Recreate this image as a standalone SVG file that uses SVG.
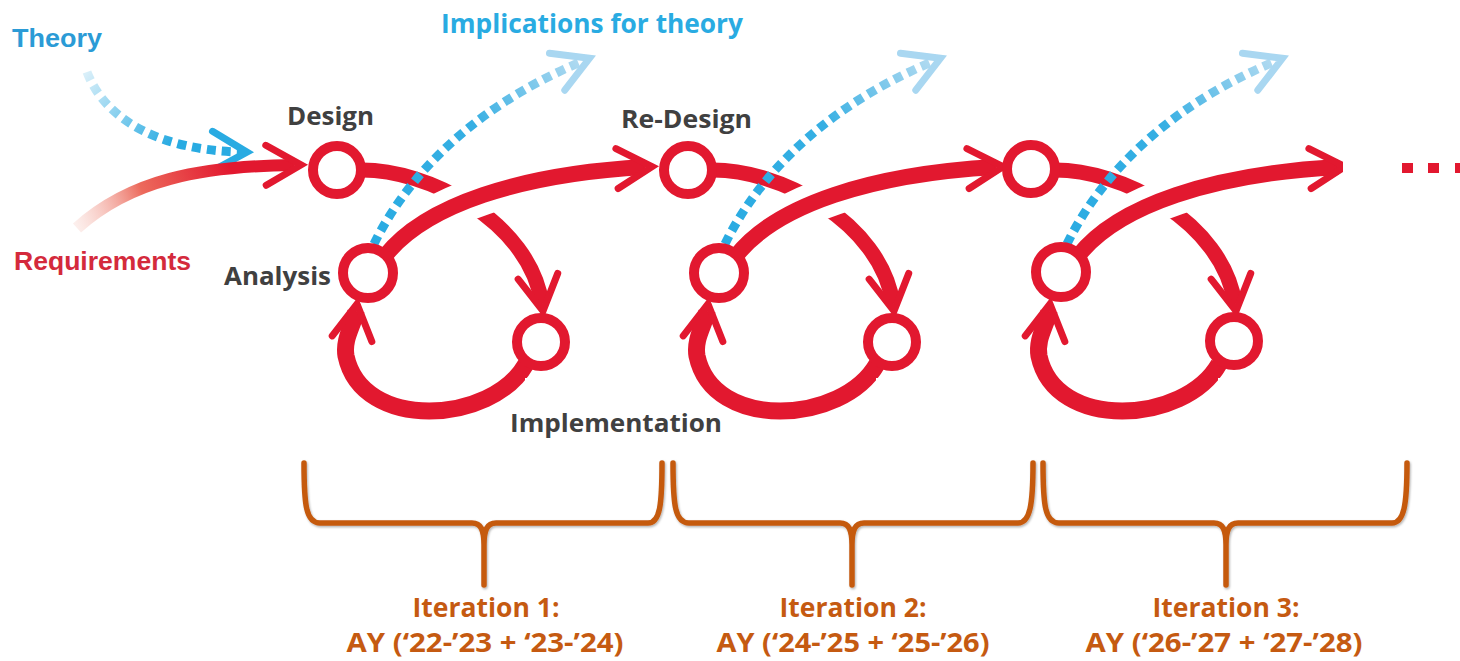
<svg xmlns="http://www.w3.org/2000/svg" xmlns:xlink="http://www.w3.org/1999/xlink" width="1460" height="661" viewBox="0 0 1460 661">
  <style>
    .red { fill: none; stroke: #e2182f; }
    .ring { fill: #ffffff; stroke: #e2182f; stroke-width: 10; }
    .dots { fill: none; stroke-width: 9; stroke-dasharray: 9 6; }
    .label { font-family: "Open Sans", "Liberation Sans", sans-serif; font-weight: 700; fill: #404040; font-size: 25px; }
    .blue-title { font-family: "Open Sans", "Liberation Sans", sans-serif; font-weight: 700; fill: #29abe2; font-size: 27px; }
    .input { font-family: "Liberation Sans", Arial, sans-serif; font-weight: 700; font-size: 26px; }
    .iter { font-family: "Open Sans", "Liberation Sans", sans-serif; font-weight: 700; fill: #c55a11; font-size: 27px; text-anchor: middle; }
    .brace { fill: none; stroke: #c55a11; stroke-width: 5.5; stroke-linecap: round; stroke-linejoin: round; }
  </style>
  <defs>
    <!-- open chevron arrowheads -->
    <marker id="chev-red" markerUnits="userSpaceOnUse" markerWidth="60" markerHeight="60" refX="0" refY="0" orient="auto" overflow="visible">
      <path d="M -28 -20 L 7 0 L -28 20" fill="none" stroke="#e2182f" stroke-width="7" stroke-linecap="round" stroke-linejoin="miter"/>
    </marker>
    <marker id="chev-blue" markerUnits="userSpaceOnUse" markerWidth="60" markerHeight="60" refX="0" refY="0" orient="auto" overflow="visible">
      <path d="M -28 -20 L 7 0 L -28 20" fill="none" stroke="#29abe2" stroke-width="7" stroke-linecap="round" stroke-linejoin="miter"/>
    </marker>
    <marker id="chev-pale" markerUnits="userSpaceOnUse" markerWidth="60" markerHeight="60" refX="0" refY="0" orient="auto" overflow="visible">
      <path d="M -28 -20 L 7 0 L -28 20" fill="none" stroke="#a9d7f1" stroke-width="7" stroke-linecap="round" stroke-linejoin="miter"/>
    </marker>

    <linearGradient id="fade-out" gradientUnits="userSpaceOnUse" x1="374" y1="244" x2="583" y2="61">
      <stop offset="0" stop-color="#29abe2"/>
      <stop offset="0.55" stop-color="#36afe3"/>
      <stop offset="1" stop-color="#b3dbf1"/>
    </linearGradient>
    <linearGradient id="fade-in" gradientUnits="userSpaceOnUse" x1="87" y1="72" x2="170" y2="145">
      <stop offset="0" stop-color="#d9eff9"/>
      <stop offset="1" stop-color="#29abe2"/>
    </linearGradient>
    <linearGradient id="req-fade" gradientUnits="userSpaceOnUse" x1="77" y1="228" x2="230" y2="168">
      <stop offset="0" stop-color="#f6c9c0" stop-opacity="0.3"/>
      <stop offset="0.45" stop-color="#ec6a5c"/>
      <stop offset="1" stop-color="#e2182f"/>
    </linearGradient>

    <filter id="soft-shadow" x="-5%" y="-5%" width="110%" height="120%">
      <feDropShadow dx="1" dy="1.5" stdDeviation="1.2" flood-color="#000000" flood-opacity="0.3"/>
    </filter>

    <clipPath id="crossing">
      <rect x="420" y="165" width="80" height="60"/>
    </clipPath>
    <clipPath id="right-edge">
      <rect x="0" y="0" width="1343" height="661"/>
    </clipPath>

    <!-- the links of one design cycle -->
    <g id="cycle-links">
      <!-- design to implementation -->
      <path class="red" stroke-width="15" d="M 358 170 C 428 168, 530 222, 542 304" marker-end="url(#chev-red)"/>
      <!-- gap where the outgoing arc passes over -->
      <path d="M 385 256 C 425 205, 520 174, 645 167" fill="none" stroke="#ffffff" stroke-width="40" clip-path="url(#crossing)"/>
      <!-- analysis to the next design -->
      <path class="red" stroke-width="16" d="M 385 256 C 425 205, 520 174, 645 167" marker-end="url(#chev-red)"/>
      <!-- implementation back to analysis -->
      <path class="red" stroke-width="17" d="M 526 364 C 492 424, 362 432, 346 356 C 343 338, 354 325, 356 311" marker-end="url(#chev-red)"/>
      <!-- implications for theory -->
      <path class="dots" stroke="url(#fade-out)" d="M 374 244 C 400 190, 460 112, 583 61" marker-end="url(#chev-pale)"/>
      <rect x="525" y="378" width="70" height="30" fill="#ffffff"/>
    </g>
  </defs>

  <rect width="1460" height="661" fill="#ffffff"/>

  <g id="connectors">
    <!-- inputs -->
    <path id="theory-link" class="dots" stroke="url(#fade-in)" d="M 87 72 C 105 120, 160 150, 240 152" marker-end="url(#chev-blue)"/>
    <path id="requirements-link" fill="none" stroke="url(#req-fade)" stroke-width="12" d="M 77 228 C 130 180, 200 166, 294 165" marker-end="url(#chev-red)"/>

    <g id="links-1"><use xlink:href="#cycle-links" href="#cycle-links"/></g>
    <g id="links-2" transform="translate(351,0)"><use xlink:href="#cycle-links" href="#cycle-links"/></g>
    <g id="links-3" clip-path="url(#right-edge)"><g transform="translate(693,0)"><use xlink:href="#cycle-links" href="#cycle-links"/></g></g>

    <!-- continuation -->
    <g id="continuation" fill="#e2182f">
      <rect x="1402" y="163" width="11" height="10"/>
      <rect x="1428" y="163" width="11" height="10"/>
      <rect x="1455" y="163" width="11" height="10"/>
    </g>
  </g>

  <g id="nodes">
    <g id="design-1"><circle class="ring" cx="337" cy="170" r="24"/></g>
    <g id="analysis-1"><circle class="ring" cx="368" cy="273" r="25"/></g>
    <g id="implementation-1"><circle class="ring" cx="541" cy="342" r="24"/></g>
    <g id="design-2"><circle class="ring" cx="688" cy="170" r="24"/></g>
    <g id="analysis-2"><circle class="ring" cx="719" cy="273" r="25"/></g>
    <g id="implementation-2"><circle class="ring" cx="892" cy="342" r="24"/></g>
    <g id="design-3"><circle class="ring" cx="1031" cy="169" r="24"/></g>
    <g id="analysis-3"><circle class="ring" cx="1061" cy="272" r="25"/></g>
    <g id="implementation-3"><circle class="ring" cx="1234" cy="341" r="24"/></g>
  </g>

  <g id="labels">
    <text class="input" fill="#2b9bd6" x="12" y="47" font-size="28" textLength="90" lengthAdjust="spacingAndGlyphs">Theory</text>
    <text class="input" fill="#d42a3c" x="14" y="270" textLength="177" lengthAdjust="spacingAndGlyphs">Requirements</text>
    <text class="blue-title" x="441" y="33" textLength="302" lengthAdjust="spacingAndGlyphs">Implications for theory</text>
    <text class="label" x="287" y="125" textLength="87" lengthAdjust="spacingAndGlyphs">Design</text>
    <text class="label" x="621" y="128" textLength="131" lengthAdjust="spacingAndGlyphs">Re-Design</text>
    <text class="label" x="224" y="285" textLength="107" lengthAdjust="spacingAndGlyphs">Analysis</text>
    <text class="label" x="510" y="432" textLength="212" lengthAdjust="spacingAndGlyphs">Implementation</text>
  </g>

  <g id="iterations">
    <g id="iteration-1">
      <path class="brace" filter="url(#soft-shadow)" d="M 304 463 C 304 505, 306 523, 320 523 L 472 523 C 481 523, 484 530, 484 545 L 484 585 M 484 545 C 484 530, 487 523, 496 523 L 648 523 C 660 523, 662 505, 662 463"/>
      <text class="iter" x="486" y="617" textLength="147" lengthAdjust="spacingAndGlyphs">Iteration 1:</text>
      <text class="iter" x="485" y="652" textLength="277" lengthAdjust="spacingAndGlyphs">AY (‘22-’23 + ‘23-’24)</text>
    </g>
    <g id="iteration-2">
      <path class="brace" filter="url(#soft-shadow)" d="M 673 463 C 673 505, 675 523, 689 523 L 840 523 C 849 523, 852 530, 852 545 L 852 585 M 852 545 C 852 530, 855 523, 864 523 L 1018 523 C 1030 523, 1033 505, 1033 463"/>
      <text class="iter" x="853" y="617" textLength="147" lengthAdjust="spacingAndGlyphs">Iteration 2:</text>
      <text class="iter" x="853" y="652" textLength="273" lengthAdjust="spacingAndGlyphs">AY (‘24-’25 + ‘25-’26)</text>
    </g>
    <g id="iteration-3">
      <path class="brace" filter="url(#soft-shadow)" d="M 1043 463 C 1043 505, 1045 523, 1059 523 L 1214 523 C 1223 523, 1226 530, 1226 545 L 1226 585 M 1226 545 C 1226 530, 1229 523, 1238 523 L 1392 523 C 1404 523, 1407 505, 1407 463"/>
      <text class="iter" x="1226" y="617" textLength="147" lengthAdjust="spacingAndGlyphs">Iteration 3:</text>
      <text class="iter" x="1224" y="652" textLength="277" lengthAdjust="spacingAndGlyphs">AY (‘26-’27 + ‘27-’28)</text>
    </g>
  </g>
</svg>
